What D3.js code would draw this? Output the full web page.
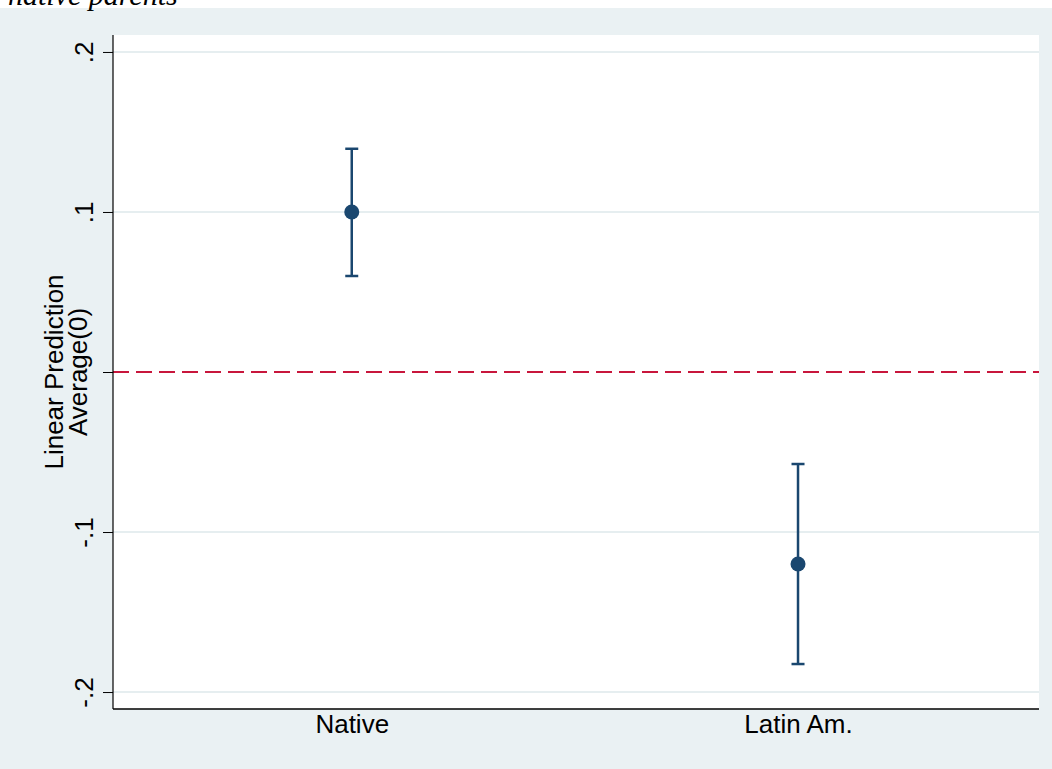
<!DOCTYPE html>
<html>
<head>
<meta charset="utf-8">
<script src="https://cdn.jsdelivr.net/npm/d3@7"></script>
<style>
  html, body { margin: 0; padding: 0; background: #ffffff; }
  svg { display: block; }
</style>
</head>
<body>
<svg id="chart" width="1052" height="769"></svg>
<script>
// Predicted margins with 95% confidence intervals by origin group
const categories = ["Native", "Latin Am."];
const categoryPositions = [1, 2];
const estimates = [0.100, -0.120];
const ciLower = [0.060, -0.1825];
const ciUpper = [0.1395, -0.0575];
const yTicks = [-0.2, -0.1, 0, 0.1, 0.2];
const yTickLabels = ["-.2", "-.1", "", ".1", ".2"];
const referenceLine = 0;

const width = 1052, height = 769;
const plot = { left: 113, right: 1039, top: 35, bottom: 709 };
const sans = "Liberation Sans, Arial, Helvetica, sans-serif";

const svg = d3.select("#chart");

// Outer graph region
svg.append("rect")
  .attr("x", 0).attr("y", 8)
  .attr("width", width).attr("height", height - 8)
  .attr("fill", "#eaf1f3");

// Title fragment above the graph region
svg.append("text")
  .attr("x", 8).attr("y", 5)
  .attr("font-family", "Liberation Serif, Times New Roman, serif")
  .attr("font-style", "italic")
  .attr("font-size", 30)
  .attr("fill", "#000")
  .text("native parents");

// Plot region
svg.append("rect")
  .attr("x", plot.left).attr("y", plot.top)
  .attr("width", plot.right - plot.left).attr("height", plot.bottom - plot.top)
  .attr("fill", "#ffffff");

const x = d3.scaleLinear().domain([0.465, 2.54]).range([plot.left, plot.right]);
const y = d3.scaleLinear().domain([-0.2106, 0.2106]).range([plot.bottom, plot.top]);

// Horizontal grid lines
svg.append("g")
  .selectAll("line")
  .data(yTicks.filter(t => t !== 0))
  .join("line")
  .attr("x1", plot.left).attr("x2", plot.right)
  .attr("y1", d => y(d)).attr("y2", d => y(d))
  .attr("stroke", "#e6eef0")
  .attr("stroke-width", 2);

// Reference line at zero
svg.append("line")
  .attr("x1", plot.left).attr("x2", plot.right)
  .attr("y1", y(referenceLine)).attr("y2", y(referenceLine))
  .attr("stroke", "#c8163c")
  .attr("stroke-width", 2)
  .attr("stroke-dasharray", "16,7");

// Y axis
const yAxis = d3.axisLeft(y)
  .tickValues(yTicks)
  .tickFormat((d, i) => yTickLabels[i])
  .tickSize(10)
  .tickPadding(4);

const gy = svg.append("g")
  .attr("transform", `translate(${plot.left},0)`)
  .call(yAxis);
gy.select(".domain").remove();
gy.append("line")
  .attr("x1", 0).attr("x2", 0)
  .attr("y1", plot.top).attr("y2", plot.bottom)
  .attr("stroke", "#000").attr("stroke-width", 1.2);
gy.selectAll(".tick line").attr("stroke", "#000").attr("stroke-width", 1);
gy.selectAll(".tick text")
  .attr("font-family", sans)
  .attr("font-size", 26)
  .attr("fill", "#000")
  .attr("text-anchor", "middle")
  .attr("dy", null)
  .attr("transform", "translate(-27,0) rotate(-90)")
  .attr("x", 0)
  .attr("y", 0)
  .attr("dominant-baseline", "middle");

// X axis
const xAxis = d3.axisBottom(x)
  .tickValues(categoryPositions)
  .tickFormat((d, i) => categories[i])
  .tickSize(0)
  .tickPadding(6);

const gx = svg.append("g")
  .attr("transform", `translate(0,${plot.bottom})`)
  .call(xAxis);
gx.select(".domain").remove();
gx.append("line")
  .attr("x1", plot.left).attr("x2", plot.right)
  .attr("y1", 0).attr("y2", 0)
  .attr("stroke", "#000").attr("stroke-width", 1.5);
gx.selectAll(".tick text")
  .attr("font-family", sans)
  .attr("font-size", 26)
  .attr("fill", "#000");

// Y axis title
const yTitle = svg.append("text")
  .attr("transform", `translate(66,${y(0)}) rotate(-90)`)
  .attr("text-anchor", "middle")
  .attr("font-family", sans)
  .attr("font-size", 26)
  .attr("fill", "#000");
yTitle.append("tspan").attr("x", 0).attr("dy", "-0.1em").text("Linear Prediction");
yTitle.append("tspan").attr("x", 0).attr("dy", "0.9em").text("Average(0)");

// Confidence intervals and point estimates
const markColor = "#1a476f";
const data = categories.map((c, i) => ({
  cat: c, pos: categoryPositions[i], est: estimates[i], lo: ciLower[i], hi: ciUpper[i]
}));

const g = svg.append("g");
g.selectAll("line.ci")
  .data(data).join("line")
  .attr("class", "ci")
  .attr("x1", d => x(d.pos)).attr("x2", d => x(d.pos))
  .attr("y1", d => y(d.lo)).attr("y2", d => y(d.hi))
  .attr("stroke", markColor).attr("stroke-width", 2.5);

const capHalf = 6.5;
["lo", "hi"].forEach(k => {
  g.selectAll(`line.cap-${k}`)
    .data(data).join("line")
    .attr("class", `cap-${k}`)
    .attr("x1", d => x(d.pos) - capHalf).attr("x2", d => x(d.pos) + capHalf)
    .attr("y1", d => y(d[k])).attr("y2", d => y(d[k]))
    .attr("stroke", markColor).attr("stroke-width", 2.5);
});

g.selectAll("circle")
  .data(data).join("circle")
  .attr("cx", d => x(d.pos)).attr("cy", d => y(d.est))
  .attr("r", 7.5)
  .attr("fill", markColor);
</script>
</body>
</html>
